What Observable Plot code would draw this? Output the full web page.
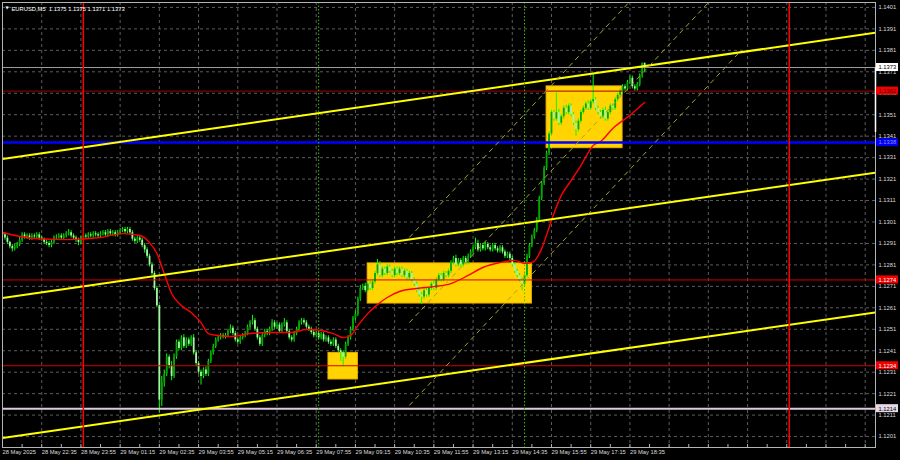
<!DOCTYPE html>
<html><head><meta charset="utf-8">
<script src="https://cdn.jsdelivr.net/npm/d3@7"></script>
<script src="https://cdn.jsdelivr.net/npm/@observablehq/plot@0.6"></script>
<style>html,body{margin:0;padding:0;background:#000;} #chart svg{display:block;}</style>
</head><body><div id="chart"></div>
<script>
// ---------- data ----------
const chartTitle = "EURUSD,M5  1.1375 1.1375 1.1371 1.1373";
const firstBarTime = "2025-05-28T21:15";
const barMinutes = 5;
const viewStart = "2025-05-28T21:15";
const viewEnd = "2025-05-30T02:56";
const priceLow = 1.11959, priceHigh = 1.14033;
const firstOpen = 1.12960;

const closes = [
1.12950,1.12935,1.12915,1.12895,1.12885,1.12895,1.12905,1.12925,1.12950,1.12940,
1.12945,1.12935,1.12945,1.12940,1.12950,1.12935,1.12930,1.12915,1.12910,1.12900,
1.12915,1.12935,1.12940,1.12945,1.12935,1.12945,1.12955,1.12960,1.12945,1.12935,
1.12925,1.12915,1.12935,1.12945,1.12940,1.12950,1.12945,1.12955,1.12950,1.12945,
1.12955,1.12960,1.12950,1.12965,1.12955,1.12960,1.12950,1.12960,1.12970,1.12975,
1.12965,1.12975,1.12960,1.12930,1.12920,1.12935,1.12925,1.12900,1.12880,1.12850,
1.12810,1.12770,1.12700,1.12620,1.12180,1.12260,1.12300,1.12380,1.12340,1.12290,
1.12380,1.12450,1.12420,1.12470,1.12430,1.12460,1.12440,1.12470,1.12400,1.12350,
1.12310,1.12290,1.12320,1.12300,1.12360,1.12400,1.12430,1.12460,1.12470,1.12480,
1.12475,1.12480,1.12500,1.12515,1.12490,1.12460,1.12450,1.12470,1.12480,1.12490,
1.12520,1.12540,1.12550,1.12510,1.12470,1.12440,1.12480,1.12500,1.12490,1.12510,
1.12540,1.12520,1.12530,1.12500,1.12530,1.12540,1.12500,1.12470,1.12460,1.12490,
1.12510,1.12540,1.12550,1.12540,1.12520,1.12510,1.12495,1.12480,1.12490,1.12470,
1.12485,1.12460,1.12470,1.12450,1.12440,1.12460,1.12430,1.12410,1.12400,1.12380,
1.12440,1.12470,1.12510,1.12560,1.12580,1.12650,1.12700,1.12710,1.12690,1.12720,
1.12700,1.12730,1.12770,1.12810,1.12760,1.12790,1.12770,1.12800,1.12780,1.12760,
1.12790,1.12770,1.12790,1.12760,1.12780,1.12750,1.12770,1.12740,1.12720,1.12690,
1.12670,1.12660,1.12690,1.12670,1.12700,1.12720,1.12700,1.12740,1.12760,1.12740,
1.12770,1.12760,1.12780,1.12820,1.12840,1.12810,1.12830,1.12810,1.12840,1.12820,
1.12850,1.12870,1.12890,1.12910,1.12880,1.12900,1.12885,1.12905,1.12890,1.12880,
1.12900,1.12885,1.12875,1.12890,1.12870,1.12850,1.12860,1.12840,1.12810,1.12780,
1.12760,1.12740,1.12720,1.12760,1.12850,1.12900,1.12940,1.12970,1.13020,1.13120,
1.13190,1.13260,1.13330,1.13420,1.13520,1.13490,1.13520,1.13470,1.13500,1.13540,
1.13520,1.13550,1.13510,1.13470,1.13440,1.13480,1.13520,1.13540,1.13560,1.13540,
1.13570,1.13580,1.13540,1.13520,1.13500,1.13530,1.13490,1.13520,1.13550,1.13540,
1.13580,1.13600,1.13620,1.13640,1.13630,1.13660,1.13680,1.13640,1.13630,1.13650,
1.13690,1.13750,1.13730
];
// wick lengths in pips (0.0001)
const upWick = [
1,1,1,0.5,1,1,1,1.5,1,1, 1,1,1,1,1,1,1,0.5,1,1, 1,1,1,1,1,1,1,1.5,1,1, 1,1,1,1,1,1,1,1,1,1,
1,1,1,1,1,1,1,1,1,1, 1,1,1,1,1,1,1,1,1,1, 1,1,1,1,0,3,2,1.5,1,2, 1.5,1,1,1,1.5,1,1,1,1.5,1,
1,1,1,1.5,1,1,1,1,1,1, 1,1,1,1.5,1,1,1,1,1,1, 1,1,2.5,1,1,1,1,1,1,1, 1.5,1,1,1,1,2,1,1,1,1,
1,1,1,1,1,1,1,1,1,1.5, 1,1,1,1,1,1,1,1,1,1, 1,1,1,1,1.5,1,1.5,1,1.5,1, 1.5,1,1,2.5,1.5,1,1,1,1,1,
1,1,1,1,1,1,1,1,1,1, 1,1,1,1,1,1,1.5,1,1,1, 1,1,1,1,1,1.5,1,1,1,1, 1,1,1,2.5,1.5,1,1,1,1,1,
1,1,1,1,1,1,1,1,1,1, 1,1,1,1,1,1,1,1,1,1, 1,1,1,1,1,1,9,1.5,1,1, 1.5,1,1,1,1,1,1,1,1,1.5,
1,12,1,1,1,1,1.5,1,1,1, 1,1,1,1,1,1,1,1,1,1, 1,0,0
];
const downWick = [
1,1,1,1,1.5,1,1,1,1,1, 1,1,1,1,1,1,1,1,1,1, 1,1,1,1,1,1,1,1,1,1, 1,1.5,1,1,1,1,1,1,1,1,
1,1,1,1,1,1,1,1,1,1, 1,1,1,1,1,1,1,1,1.5,1, 1,1,1,1,6,3,2,1,1.5,2, 1,1,1,1,1,1,1,1,1,1.5,
1,4,1,1,1,1,1,1,1,1, 1,1,1,1,1,1,1,1,1,1, 1,1,1,1,1,1,1,1,1,1, 1,1,1,1,1,1,1,1,1,1,
1,1,1,1,1,1,1,1,1,1, 1,1,1,1,1,1,1,1,4,4.5, 1,1,1,1,1,1,1,1,1,1, 1,1,1,1,1,1,1,1,1,1,
1,1,1,1,1,1,1,1,1,1, 1,3.5,1,1,1,1,1,1,1,1, 1,1,1,1,1,1,1,1,1,1, 1,1,1,1,1,1,1,1,1,1,
1,1,1,1,1,1,1,1,1,1, 1,1,3,1,1,1,1,1,1,1, 1,1,1,1,1,1,1,1,1,1, 1,1,1,1,3,1,1,1,1,1,
1,1,1,1,1,1,1,1,1,1, 1,1,1,1,1,1,1,1,1,1, 1,1,2
];

// moving average (red line), read at points
const maTimes = ["2025-05-28T21:15","2025-05-28T22:20","2025-05-28T23:25","2025-05-29T00:35","2025-05-29T01:20","2025-05-29T01:55","2025-05-29T02:15","2025-05-29T02:30","2025-05-29T02:45","2025-05-29T03:00","2025-05-29T03:20","2025-05-29T03:40","2025-05-29T04:00","2025-05-29T04:15","2025-05-29T04:35","2025-05-29T05:00","2025-05-29T05:40","2025-05-29T06:20","2025-05-29T07:05","2025-05-29T07:35","2025-05-29T08:05","2025-05-29T08:30","2025-05-29T08:50","2025-05-29T09:05","2025-05-29T09:20","2025-05-29T09:40","2025-05-29T10:00","2025-05-29T10:20","2025-05-29T10:45","2025-05-29T11:20","2025-05-29T11:55","2025-05-29T12:30","2025-05-29T13:05","2025-05-29T13:35","2025-05-29T14:10","2025-05-29T14:40","2025-05-29T15:00","2025-05-29T15:15","2025-05-29T15:35","2025-05-29T15:45","2025-05-29T16:00","2025-05-29T16:15","2025-05-29T16:35","2025-05-29T16:55","2025-05-29T17:20","2025-05-29T17:35","2025-05-29T18:00","2025-05-29T18:35","2025-05-29T19:05"];
const maValues = [1.12961,1.12933,1.12928,1.12938,1.12956,1.12947,1.12914,1.12863,1.12770,1.12677,1.12621,1.12588,1.12541,1.12490,1.12481,1.12476,1.12490,1.12495,1.12495,1.12509,1.12504,1.12490,1.12472,1.12481,1.12527,1.12583,1.12625,1.12658,1.12686,1.12700,1.12709,1.12723,1.12761,1.12798,1.12821,1.12831,1.12817,1.12821,1.12886,1.12950,1.13050,1.13134,1.13203,1.13273,1.13367,1.13385,1.13446,1.13507,1.13567];

// axis labels
const timeTickTimes = ["2025-05-28T21:15","2025-05-28T22:35","2025-05-28T23:55","2025-05-29T01:15","2025-05-29T02:35","2025-05-29T03:55","2025-05-29T05:15","2025-05-29T06:35","2025-05-29T07:55","2025-05-29T09:15","2025-05-29T10:35","2025-05-29T11:55","2025-05-29T13:15","2025-05-29T14:35","2025-05-29T15:55","2025-05-29T17:15","2025-05-29T18:35"];
const timeTickLabels = ["28 May 2025","28 May 22:35","28 May 23:55","29 May 01:15","29 May 02:35","29 May 03:55","29 May 05:15","29 May 06:35","29 May 07:55","29 May 09:15","29 May 10:35","29 May 11:55","29 May 13:15","29 May 14:35","29 May 15:55","29 May 17:15","29 May 18:35"];
const priceTicks = [1.1201,1.1211,1.1221,1.1231,1.1241,1.1251,1.1261,1.1271,1.1281,1.1291,1.1301,1.1311,1.1321,1.1331,1.1341,1.1351,1.1361,1.1371,1.1381,1.1391,1.1401];

// horizontal levels
const levelPrices = [1.1373, 1.1362, 1.1338, 1.1274, 1.1234, 1.1214];
const levelLabels = ["1.1373","1.1362","1.1338","1.1274","1.1234","1.1214"];
const askSpan = [1.13728, 1.13427];

// rectangles
const boxStart = ["2025-05-29T08:20","2025-05-29T09:40","2025-05-29T15:45"];
const boxEnd   = ["2025-05-29T09:20","2025-05-29T15:15","2025-05-29T18:20"];
const boxLow   = [1.12276, 1.12630, 1.13354];
const boxHigh  = [1.12400, 1.12817, 1.13642];

// solid yellow channel
const trendStart = "2025-05-28T21:15", trendEnd = "2025-05-30T02:56";
const trendStartPrice = [1.13304, 1.12656, 1.12003];
const trendEndPrice   = [1.13892, 1.13240, 1.12588];

// dashed steep channel
const dashStart = "2025-05-29T11:05", dashEnd = "2025-05-29T22:15";
const dashStartPrice = [1.12938, 1.12541, 1.12155];
const dashEndPrice   = [1.14576, 1.14179, 1.13793];

// vertical lines
const daySeparators = ["2025-05-29T00:00","2025-05-30T00:00"];
const sessionLines = ["2025-05-29T08:00","2025-05-29T15:00"];

// ---------- build ----------
const T = s => new Date(s + ":00Z");
const t0 = T(firstBarTime);
const barTime = i => new Date(+t0 + i * barMinutes * 60000);
const bars = closes.map((c, i) => {
  const o = i ? closes[i - 1] : firstOpen;
  return {t: barTime(i), open: o, close: c,
          high: Math.max(o, c) + upWick[i] * 1e-4,
          low: Math.min(o, c) - downWick[i] * 1e-4};
});
const ma = maTimes.map((s, i) => ({t: T(s), p: maValues[i]}));
const xEnd = T(viewEnd);
const gridTimes = d3.range(16, 360, 16).map(barTime).filter(d => d < xEnd);
const minorTicks = d3.range(0, 360, 8).map(barTime).filter(d => d < xEnd);
const timeTicks = timeTickTimes.map((s, i) => ({t: T(s), label: timeTickLabels[i]}));
const boxes = boxStart.map((s, i) => ({x1: T(s), x2: T(boxEnd[i]), y1: boxLow[i], y2: boxHigh[i]}));
const trends = trendStartPrice.map((p, i) => ({x1: T(trendStart), y1: p, x2: T(trendEnd), y2: trendEndPrice[i]}));
const dashes = dashStartPrice.map((p, i) => ({x1: T(dashStart), y1: p, x2: T(dashEnd), y2: dashEndPrice[i]}));
const lineStroke = ["#9c9c9c", "#a00000", "#0000ff", "#d40000", "#d40000", "#dccadc"];
const lineWidth = [1, 1, 2.5, 1, 1, 2];
const boxFill = ["#ffffff", "#f00000", "#0000f0", "#f00000", "#f00000", "#e6d8e6"];
const boxText = ["#000000", "#300000", "#8c8cff", "#ffffff", "#ffffff", "#000000"];
const levels = levelPrices.map((p, i) => ({p, label: levelLabels[i], stroke: lineStroke[i], sw: lineWidth[i], fill: boxFill[i], tc: boxText[i]}));

const fs = 5.8;
const plot = Plot.plot({
  width: 900, height: 460,
  marginLeft: 2, marginRight: 25, marginTop: 2, marginBottom: 13,
  style: {background: "#000", fontFamily: "Liberation Sans, Arial, sans-serif", fontSize: fs + "px", color: "#ddd"},
  x: {type: "utc", domain: [T(viewStart), xEnd], axis: null},
  y: {domain: [priceLow, priceHigh], axis: null},
  marks: [
    // grid
    Plot.ruleY(priceTicks, {stroke: "#5c5c5c", strokeDasharray: "3,3", strokeWidth: 1}),
    Plot.ruleX(gridTimes, {stroke: "#5c5c5c", strokeDasharray: "3,3", strokeWidth: 1}),
    Plot.tickX(minorTicks, {stroke: "#b4b4b4", insetTop: 442}),
    // rectangles (background objects)
    Plot.rect(boxes, {x1: "x1", x2: "x2", y1: "y1", y2: "y2", fill: "#ffd400", stroke: "#f0b000", strokeWidth: 1}),
    // candles
    Plot.ruleX(bars, {x: "t", y1: "low", y2: "high", stroke: "#00ff00", strokeWidth: 1, clip: true}),
    Plot.ruleX(bars, {x: "t", y1: "open", y2: "close", stroke: d => d.close >= d.open ? "#00a800" : "#a6f4a6", strokeWidth: 1.8, clip: true}),
    // moving average
    Plot.line(ma, {x: "t", y: "p", stroke: "#ff0000", strokeWidth: 1.4, curve: "monotone-x", clip: true}),
    // horizontal levels
    Plot.ruleY(levels, {y: "p", stroke: d => d.stroke, strokeWidth: d => d.sw}),
    // channels
    Plot.link(trends, {x1: "x1", y1: "y1", x2: "x2", y2: "y2", stroke: "#ffff00", strokeWidth: 2, clip: true}),
    Plot.link(dashes, {x1: "x1", y1: "y1", x2: "x2", y2: "y2", stroke: "#a4a42c", strokeWidth: 1, strokeDasharray: "5,4", clip: true}),
    // vertical lines
    Plot.ruleX(sessionLines.map(T), {stroke: "#3cc000", strokeWidth: 1, strokeDasharray: "1.5,2"}),
    Plot.ruleX(daySeparators.map(T), {stroke: "#ff0000", strokeWidth: 1.5}),
    // frame
    Plot.frame({stroke: "#b4b4b4", strokeWidth: 1}),
    Plot.ruleX([xEnd], {y1: askSpan[0], y2: askSpan[1], stroke: "#ffffff", strokeWidth: 1.5}),
    // price labels
    Plot.text(priceTicks, {y: d => d, frameAnchor: "right", dx: 3, textAnchor: "start", text: d => d.toFixed(4), fill: "#dcdcdc", fontSize: fs}),
    Plot.rect(levels, {x1: () => xEnd, x2: () => xEnd, y1: "p", y2: "p", insetLeft: 1, insetRight: -23, insetTop: -4, insetBottom: -4, fill: d => d.fill}),
    Plot.text(levels, {y: "p", frameAnchor: "right", dx: 3, textAnchor: "start", text: "label", fill: d => d.tc, fontSize: fs}),
    // time labels
    Plot.text(timeTicks, {x: "t", frameAnchor: "bottom", dy: 6.5, dx: 0, textAnchor: "start", text: "label", fill: "#dcdcdc", fontSize: fs}),
    // title
    Plot.text(["▼"], {frameAnchor: "top-left", dx: 3, dy: 4, textAnchor: "start", text: d => d, fill: "#ffffff", fontSize: 4, fontFamily: "DejaVu Sans"}),
    Plot.text([chartTitle], {frameAnchor: "top-left", dx: 9, dy: 4.5, textAnchor: "start", text: d => d, fill: "#ffffff", fontSize: fs})
  ]
});
document.getElementById("chart").appendChild(plot);
</script>
</body></html>
